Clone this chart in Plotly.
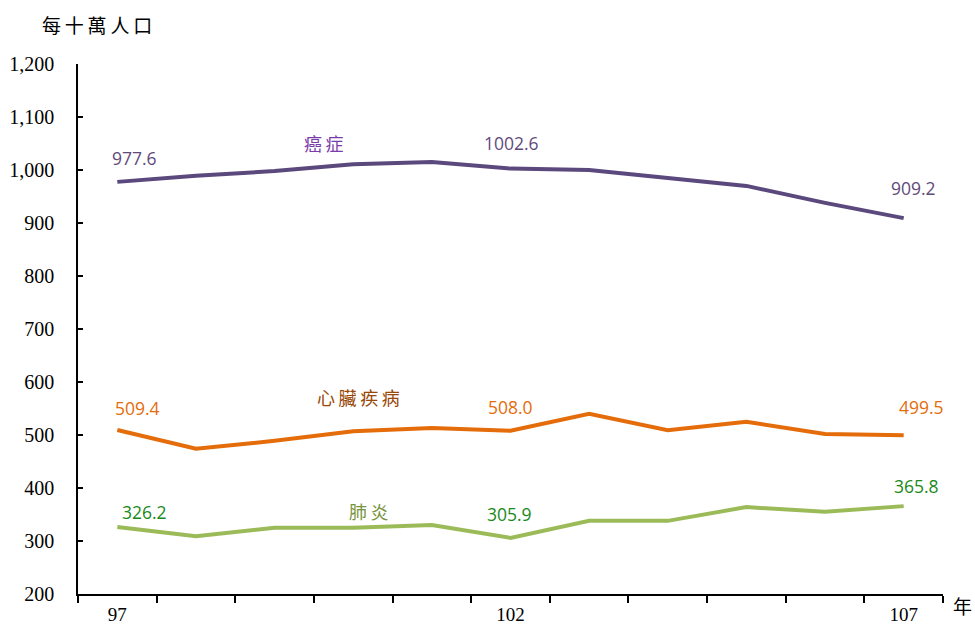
import plotly.graph_objects as go

years = [97, 98, 99, 100, 101, 102, 103, 104, 105, 106, 107]
cancer = [977.6, 989, 998, 1011, 1015, 1002.6, 1000, 985, 970, 938, 909.2]
heart = [509.4, 474, 489, 507, 513, 508.0, 540, 509, 525, 502, 499.5]
pneumonia = [326.2, 309, 325, 325, 330, 305.9, 338, 338, 364, 355, 365.8]
y_ticks = [200, 300, 400, 500, 600, 700, 800, 900, 1000, 1100, 1200]
x_labels = [97, 102, 107]

series = [
    ("癌症", cancer, "#5B487D", "#604A7B", "#7A3CA8", (324, 143)),
    ("心臟疾病", heart, "#E46C0A", "#E46C0A", "#984807", (358, 397)),
    ("肺炎", pneumonia, "#9BBB59", "#1A8A1A", "#77933C", (369, 511)),
]

SERIF = "Liberation Serif, Times New Roman, serif"
TS = "\u2009"

fig = go.Figure()
for name, vals, lc, vc, nc, _ in series:
    fig.add_trace(go.Scatter(x=years, y=vals, mode="lines", name=name,
                             line=dict(color=lc, width=4), hoverinfo="x+y"))

annots = []
val_font = dict(family="Open Sans, Noto Sans", size=17.5)
label_pts = [
    (0, 0, 17, 24), (0, 5, 1, 26), (0, 10, 10, 30),
    (1, 0, 20, 22), (1, 5, 0, 24), (1, 10, 18, 28),
    (2, 0, 27, 15), (2, 5, -1, 24), (2, 10, 13, 20),
]
for si, pi, xs, ys in label_pts:
    name, vals, lc, vc, nc, _ = series[si]
    v = vals[pi]
    annots.append(dict(x=years[pi], y=v, xref="x", yref="y", text=f"{v:.1f}",
                       showarrow=False, xshift=xs, yshift=ys,
                       font=dict(color=vc, **val_font)))

L, R, T, B = 78, 32, 64, 34
W, H = 975, 628
pw, ph = W - L - R, H - T - B

for name, vals, lc, vc, nc, (px, py) in series:
    annots.append(dict(x=(px - L) / pw, y=1 - (py - T) / ph, xref="paper", yref="paper",
                       text=TS.join(name), showarrow=False, xanchor="center", yanchor="middle",
                       font=dict(family="Noto Sans CJK TC", size=18, color=nc)))

annots.append(dict(x=(40 - L) / pw, y=1 - (25 - T) / ph, xref="paper", yref="paper",
                   text=TS.join("每十萬人口"), showarrow=False, xanchor="left", yanchor="middle",
                   font=dict(family="Noto Sans CJK TC", size=19, color="#000000")))
annots.append(dict(x=(951 - L) / pw, y=1 - (605 - T) / ph, xref="paper", yref="paper",
                   text="年", showarrow=False, xanchor="left", yanchor="middle",
                   font=dict(family="Noto Sans CJK TC", size=19, color="#000000")))

fig.update_layout(
    width=W, height=H,
    margin=dict(l=L, r=R, t=T, b=B, autoexpand=False),
    plot_bgcolor="white", paper_bgcolor="white",
    showlegend=False,
    annotations=annots,
    xaxis=dict(range=[96.5, 107.5], tickmode="array", tickvals=x_labels,
               ticktext=[str(v) for v in x_labels], ticks="outside", ticklen=0,
               tickcolor="black", ticklabelstandoff=2,
               showline=True, linecolor="black", linewidth=1.5, showgrid=False,
               zeroline=False,
               tickfont=dict(family=SERIF, size=19, color="black"),
               minor=dict(tickmode="array", tickvals=[96.5 + i for i in range(12)],
                          ticks="outside", ticklen=7, tickcolor="black", tickwidth=1.5,
                          showgrid=False)),
    yaxis=dict(range=[200, 1200], tickmode="array", tickvals=y_ticks, tickformat=",",
               ticks="inside", ticklen=5, tickcolor="black", tickwidth=1.5,
               ticklabelstandoff=18,
               showline=True, linecolor="black", linewidth=1.5, showgrid=False,
               zeroline=False,
               tickfont=dict(family=SERIF, size=20, color="black")),
)

fig.write_html("out.html", config={"displayModeBar": False},
               post_script="document.body.style.margin='0';")
